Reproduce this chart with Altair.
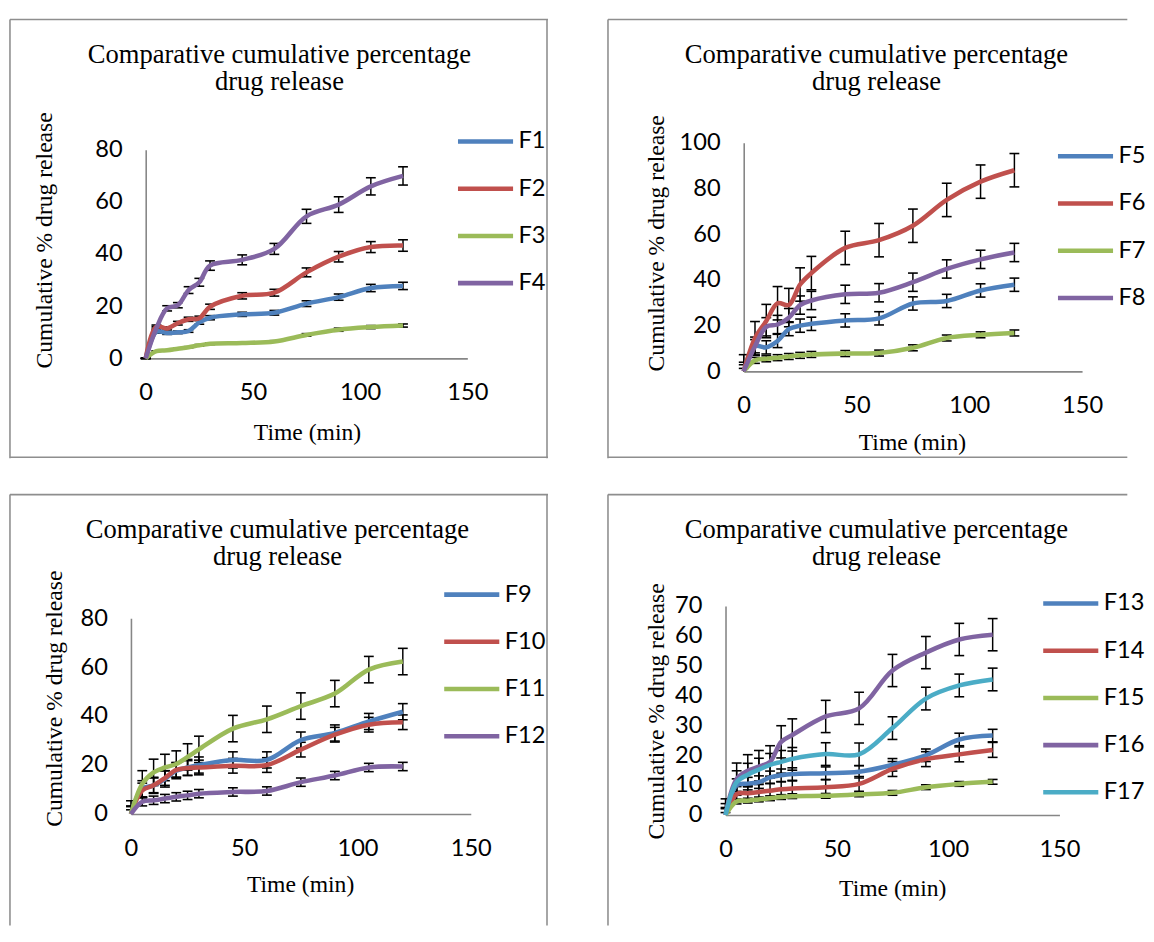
import altair as alt
import pandas as pd

# ---------------- data ----------------
TIME = [0, 5, 10, 15, 20, 25, 30, 45, 60, 75, 90, 105, 120]

P1_SERIES = ["F1", "F2", "F3", "F4"]
F1 = [0, 10.2, 9.7, 10.0, 10.5, 13.8, 15.6, 16.9, 17.5, 21.0, 23.5, 27.0, 27.8]
F2 = [0, 12.2, 11.5, 13.5, 15.0, 15.4, 19.8, 24.0, 25.2, 33.0, 39.0, 42.7, 43.3]
F3 = [0, 2.8, 3.1, 3.7, 4.3, 5.0, 5.6, 5.9, 6.5, 9.0, 11.0, 12.0, 12.6]
F4 = [0, 11.6, 19.2, 20.4, 26.2, 29.2, 35.6, 37.8, 42.0, 54.5, 59.0, 66.0, 70.0]
# panel 1 error bars (about 5 % of each value)
E1 = [0, 0.5, 0.5, 0.5, 0.5, 0.7, 0.8, 0.8, 0.9, 1.1, 1.2, 1.4, 1.4]
E2 = [0, 0.6, 0.6, 0.7, 0.8, 0.8, 1.0, 1.2, 1.3, 1.7, 2.0, 2.1, 2.2]
E3 = [0, 0.1, 0.2, 0.2, 0.2, 0.3, 0.3, 0.3, 0.3, 0.5, 0.6, 0.6, 0.6]
E4 = [0, 0.6, 1.0, 1.0, 1.3, 1.5, 1.8, 1.9, 2.1, 2.7, 3.0, 3.3, 3.5]

P2_SERIES = ["F5", "F6", "F7", "F8"]
F5 = [0, 11.0, 10.5, 13.3, 18.5, 20.0, 20.8, 22.3, 23.2, 29.7, 30.8, 35.4, 37.9]
F6 = [0, 14.5, 22.0, 29.8, 29.0, 38.0, 43.0, 54.0, 57.4, 63.7, 75.0, 83.0, 88.0]
F7 = [0, 4.8, 5.5, 6.0, 6.5, 7.0, 7.4, 7.8, 8.0, 10.3, 14.6, 16.0, 16.8]
F8 = [0, 11.0, 19.5, 20.5, 23.5, 29.0, 31.0, 33.7, 34.4, 39.0, 44.8, 49.0, 52.0]
P2_ERR = [2.9, 7.3, 1.3, 4.0]

P3_SERIES = ["F9", "F10", "F11", "F12"]
F9 = [0, 10.3, 11.7, 14.3, 17.7, 19.0, 20.0, 22.1, 22.1, 30.2, 33.1, 37.8, 41.8]
F10 = [0, 9.6, 11.7, 14.7, 18.0, 18.8, 19.0, 19.7, 20.0, 26.3, 32.4, 36.5, 37.5]
F11 = [0, 12.3, 17.0, 19.0, 20.4, 23.3, 26.4, 34.9, 38.7, 44.1, 49.2, 59.0, 62.3]
F12 = [0, 5.0, 5.6, 6.3, 7.0, 7.6, 8.3, 9.0, 9.4, 13.0, 15.7, 19.0, 19.4]
P3_ERR = [3.3, 3.0, 5.4, 1.7]

P4_SERIES = ["F13", "F14", "F15", "F16", "F17"]
F13 = [0, 10.0, 10.5, 11.0, 12.6, 13.3, 13.7, 14.0, 14.5, 16.8, 20.0, 25.3, 26.6]
F14 = [0, 7.0, 7.3, 7.7, 8.1, 8.6, 8.9, 9.3, 10.4, 15.4, 18.7, 20.3, 21.8]
F15 = [0, 4.5, 4.8, 5.2, 5.6, 6.0, 6.3, 6.4, 6.9, 7.4, 9.3, 10.4, 11.1]
F16 = [0, 12.0, 14.8, 16.2, 17.8, 24.5, 26.8, 33.0, 35.7, 48.4, 54.4, 58.8, 60.4]
F17 = [0, 11.0, 13.5, 15.2, 16.8, 17.8, 18.8, 20.4, 20.3, 29.1, 39.0, 43.4, 45.4]
P4_ERR = [2.1, 2.5, 0.8, 5.4, 3.8]

X_TICKS = [0, 50, 100, 150]
P1_Y_TICKS = [0, 20, 40, 60, 80]
P2_Y_TICKS = [0, 20, 40, 60, 80, 100]
P3_Y_TICKS = [0, 20, 40, 60, 80]
P4_Y_TICKS = [0, 10, 20, 30, 40, 50, 60, 70]

TITLE_LINES = ["Comparative cumulative percentage", "drug release"]
Y_TITLE = "Cumulative % drug release"
X_TITLE = "Time (min)"

COLORS4 = ["#4F81BD", "#C0504D", "#9BBB59", "#8064A2"]
COLORS5 = ["#4F81BD", "#C0504D", "#9BBB59", "#8064A2", "#4BACC6"]

SERIF = "Liberation Serif"
SANS = "Lato"
FRAME_COLOR = "#8e8e8e"
AXIS_COLOR = "#868686"


def build_df(names, values, errs):
    rows = []
    for name, vals, err in zip(names, values, errs):
        for i, (t, v) in enumerate(zip(TIME, vals)):
            e = err[i] if isinstance(err, list) else err
            rows.append({
                "time": t, "value": v, "series": name,
                "hi": v + e, "lo": max(v - e, 0.0), "lo_ok": (v - e) >= 0,
            })
    return pd.DataFrame(rows)


def one_row():
    return alt.Chart(alt.Data(values=[{"k": 1}]))


def frame_rule(x, x2, y, y2):
    return one_row().mark_rule(color=FRAME_COLOR, strokeWidth=1.6).encode(
        x=alt.value(x), x2=alt.value(x2), y=alt.value(y), y2=alt.value(y2)
    )


def panel(names, values, errs, y_ticks, colors, L):
    W, H = L["W"], L["H"]
    x0, x1 = L["xr"]
    y0, y1 = L["yr"]
    df = build_df(names, values, errs)

    xscale = alt.Scale(domain=[0, 150], range=[x0, x1], nice=False, zero=False)
    yscale = alt.Scale(domain=[y_ticks[0], y_ticks[-1]], range=[y0, y1], nice=False, zero=False)

    xaxis = alt.Axis(
        values=X_TICKS, orient="bottom", offset=-(H - y0), grid=False, ticks=False,
        domainColor=AXIS_COLOR, domainWidth=1.6, labelFont=SANS, labelFontSize=24,
        labelColor="black", labelPadding=23, labelFlush=False, labelOverlap=False,
        title=X_TITLE, titleFont=SERIF, titleFontSize=24, titleFontWeight="normal",
        titleColor="black", titleX=L["xt"][0], titleY=L["xt"][1] - y0,
        titleAlign="center", titleBaseline="alphabetic", titleAnchor="start",
    )
    yaxis = alt.Axis(
        values=y_ticks, orient="left", offset=-x0, grid=False, ticks=False,
        domainColor=AXIS_COLOR, domainWidth=1.6, labelFont=SANS, labelFontSize=24,
        labelColor="black", labelPadding=24, labelFlush=False, labelOverlap=False,
        title=Y_TITLE, titleFont=SERIF, titleFontSize=24, titleFontWeight="normal",
        titleColor="black", titleX=L["yt"][0] - x0, titleY=L["yt"][1],
        titleAngle=270, titleAlign="center", titleBaseline="alphabetic", titleAnchor="start",
    )

    base = alt.Chart(df)
    lines = base.mark_line(interpolate="catmull-rom", strokeWidth=4.6, strokeJoin="round").encode(
        x=alt.X("time:Q", scale=xscale, axis=xaxis),
        y=alt.Y("value:Q", scale=yscale, axis=yaxis),
        color=alt.Color(
            "series:N",
            scale=alt.Scale(domain=names, range=colors),
            legend=alt.Legend(
                orient="none", legendX=L["leg"][0], legendY=L["leg"][1] - 12, title=None,
                symbolType="stroke", symbolSize=3136, symbolStrokeWidth=4.6,
                labelFont=SANS, labelFontSize=24, labelColor="black", labelOffset=3,
                rowPadding=24, clipHeight=24, padding=0,
            ),
        ),
        detail="series:N",
    )
    bars = base.mark_rule(color="black", strokeWidth=1.5).encode(
        x=alt.X("time:Q", scale=xscale, axis=xaxis),
        y=alt.Y("lo:Q", scale=yscale, axis=yaxis),
        y2="hi:Q",
    )
    caps_hi = base.mark_tick(orient="horizontal", size=10, thickness=1.6, color="black", opacity=1).encode(
        x=alt.X("time:Q", scale=xscale, axis=xaxis),
        y=alt.Y("hi:Q", scale=yscale, axis=yaxis),
    )
    caps_lo = base.transform_filter("datum.lo_ok").mark_tick(
        orient="horizontal", size=10, thickness=1.6, color="black", opacity=1
    ).encode(
        x=alt.X("time:Q", scale=xscale, axis=xaxis),
        y=alt.Y("lo:Q", scale=yscale, axis=yaxis),
    )

    title = one_row().mark_text(
        align="center", baseline="alphabetic", font=SERIF, fontSize=27, lineHeight=28, color="black"
    ).encode(x=alt.value(L["tc"]), y=alt.value(45), text=alt.value(TITLE_LINES))

    frames = []
    if "left" in L["frame"]:
        frames.append(frame_rule(1, 1, 1, H))
    if "top" in L["frame"]:
        frames.append(frame_rule(1, W, 1, 1))
    if "right" in L["frame"]:
        frames.append(frame_rule(W - 1, W - 1, 1, H))
    if "bottom" in L["frame"]:
        frames.append(frame_rule(1, W, H - 1, H - 1))

    # error bars sit beneath the thick series lines, as in the original
    return alt.layer(*frames, title, bars, caps_hi, caps_lo, lines).properties(width=W, height=H)


L1 = dict(W=548, H=447, xr=[139, 466], yr=[345.5, 133.5], tc=275, yt=[43, 225], xt=[303, 428],
          leg=[454, 125], frame=["left", "top", "right", "bottom"])
L2 = dict(W=529, H=447, xr=[139, 483], yr=[358.7, 126.3], tc=274, yt=[57, 228], xt=[310, 438],
          leg=[456, 140], frame=["left", "top", "bottom"])
L3 = dict(W=548, H=439, xr=[124, 469.5], yr=[325.7, 126.7], tc=273, yt=[53, 208], xt=[296, 405],
          leg=[440, 102.7], frame=["left", "top", "right"])
L4 = dict(W=529, H=439, xr=[120.5, 460], yr=[326.7, 114.3], tc=274, yt=[57, 221], xt=[290, 409],
          leg=[441, 111.7], frame=["left", "top"])

p1 = panel(P1_SERIES, [F1, F2, F3, F4], [E1, E2, E3, E4], P1_Y_TICKS, COLORS4, L1)
p2 = panel(P2_SERIES, [F5, F6, F7, F8], P2_ERR, P2_Y_TICKS, COLORS4, L2)
p3 = panel(P3_SERIES, [F9, F10, F11, F12], P3_ERR, P3_Y_TICKS, COLORS4, L3)
p4 = panel(P4_SERIES, [F13, F14, F15, F16, F17], P4_ERR, P4_Y_TICKS, COLORS5, L4)

chart = alt.concat(
    p1, p2, p3, p4, columns=2, spacing={"row": 36, "column": 60}, bounds="flush"
).resolve_scale(
    x="independent", y="independent", color="independent"
).properties(
    padding={"left": 1, "top": 3, "right": 0, "bottom": 0}, background="white"
).configure_view(stroke=None)

chart.save("out.html", embed_options={"renderer": "svg", "actions": False})
